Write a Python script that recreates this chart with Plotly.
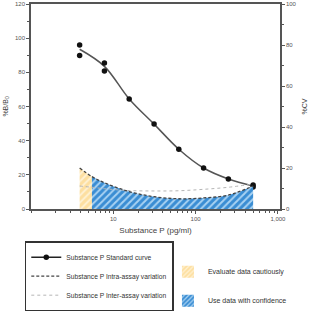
import plotly.graph_objects as go
import numpy as np

# ---- data ----
conc = [3.9, 7.8, 15.6, 31.3, 62.5, 125, 250, 500]           # pg/ml standards
curve_bb0 = [93.5, 83.5, 64.4, 49.7, 35.0, 24.0, 17.6, 13.5]  # fitted standard curve (%B/B0)
rep_conc = [3.9, 3.9, 7.8, 7.8, 15.6, 31.3, 62.5, 125, 250, 500, 500]
rep_bb0 = [96.0, 89.8, 85.5, 80.8, 64.4, 49.7, 35.0, 24.0, 17.6, 14.0, 12.9]

cv_conc = [3.9, 5.5, 7.8, 15.6, 31.3, 62.5, 125, 250, 500]
intra_cv = [20.0, 15.8, 12.8, 8.5, 6.0, 5.0, 5.4, 6.8, 11.2]
inter_cv = [11.2, 10.6, 9.9, 9.0, 8.8, 8.9, 9.6, 10.6, 12.2]

caution_end = 2      # indices 0..1 of cv_conc -> "evaluate cautiously"
confident_start = 1  # indices 1.. -> "use with confidence"

xtick_vals = [10, 100, 1000]
xtick_text = ["10", "100", "1,000"]

FONT = "Arial, Liberation Sans, sans-serif"
AX = "#555555"
TXT = "#555555"
YEL_BG, YEL_FG = "#fddfa0", "#fff1d2"
BLU_BG, BLU_FG = "#3a8dd3", "#a8d2f2"

fig = go.Figure()

# hatched areas (right axis, %CV)
fig.add_trace(go.Scatter(
    x=cv_conc[:caution_end], y=intra_cv[:caution_end], yaxis="y2",
    mode="lines", line=dict(width=0, shape="spline"), fill="tozeroy",
    fillcolor=YEL_BG,
    fillpattern=dict(shape="/", bgcolor=YEL_BG, fgcolor=YEL_FG, size=5, solidity=0.4, fillmode="replace"),
    showlegend=False, hoverinfo="skip"))
fig.add_trace(go.Scatter(
    x=cv_conc[confident_start:], y=intra_cv[confident_start:], yaxis="y2",
    mode="lines", line=dict(width=0, shape="spline"), fill="tozeroy",
    fillcolor=BLU_BG,
    fillpattern=dict(shape="/", bgcolor=BLU_BG, fgcolor=BLU_FG, size=5, solidity=0.4, fillmode="replace"),
    showlegend=False, hoverinfo="skip"))

# inter-assay (dotted grey)
fig.add_trace(go.Scatter(
    x=cv_conc, y=inter_cv, yaxis="y2", mode="lines",
    line=dict(color="#b5b5b5", width=1, dash="dot", shape="spline"),
    name="Substance P Inter-assay variation", legend="legend", legendrank=3))
# intra-assay (dashed dark)
fig.add_trace(go.Scatter(
    x=cv_conc, y=intra_cv, yaxis="y2", mode="lines",
    line=dict(color="#444444", width=1.3, dash="3px,2px", shape="spline"),
    name="Substance P Intra-assay variation", legend="legend", legendrank=2))

# standard curve
fig.add_trace(go.Scatter(
    x=conc, y=curve_bb0, mode="lines",
    line=dict(color="#555555", width=1.5, shape="spline"),
    showlegend=False, legendgroup="std"))
fig.add_trace(go.Scatter(
    x=rep_conc, y=rep_bb0, mode="markers",
    marker=dict(color="#111111", size=5.5),
    showlegend=False, legendgroup="std"))
# legend key for the standard curve
fig.add_trace(go.Scatter(
    x=[None], y=[None], mode="lines+markers",
    line=dict(color="#222222", width=1.5), marker=dict(color="#111111", size=5.5),
    name="Substance P Standard curve", legendgroup="std", legend="legend", legendrank=1))

# legend keys for the areas
fig.add_trace(go.Bar(
    x=[None], y=[None], name="Evaluate data cautiously", legend="legend2",
    legendgroup="a", marker=dict(color=YEL_BG, line=dict(width=0),
    pattern=dict(shape="/", bgcolor=YEL_BG, fgcolor=YEL_FG, size=4, solidity=0.4, fillmode="replace"))))
fig.add_trace(go.Bar(
    x=[None], y=[None], name="Use data with confidence", legend="legend2",
    legendgroup="b", marker=dict(color=BLU_BG, line=dict(width=0),
    pattern=dict(shape="/", bgcolor=BLU_BG, fgcolor=BLU_FG, size=4, solidity=0.4, fillmode="replace"))))

tickfont = dict(family=FONT, size=6, color=TXT)
fig.update_layout(
    width=312, height=312,
    margin=dict(l=31, r=32, t=4, b=103, autoexpand=False),
    paper_bgcolor="white", plot_bgcolor="white",
    font=dict(family=FONT, color=TXT),
    xaxis=dict(type="log", range=[0, np.log10(1060)],
               tickmode="array", tickvals=xtick_vals, ticktext=xtick_text,
               ticks="outside", ticklen=3, tickcolor=AX, tickwidth=1,
               minor=dict(dtick="D1", ticks="outside", ticklen=2, tickcolor=AX),
               showline=True, linecolor=AX, linewidth=1.5, mirror=True,
               showgrid=False, zeroline=False, tickfont=tickfont,
               title=dict(text="Substance P (pg/ml)", font=dict(family=FONT, size=8, color="#444"), standoff=6)),
    yaxis=dict(range=[0, 120], dtick=20, ticks="outside", ticklen=3, tickcolor=AX,
               minor=dict(dtick=10, ticks="outside", ticklen=2, tickcolor=AX),
               showline=True, linecolor=AX, linewidth=1.5, showgrid=False, zeroline=False,
               tickfont=tickfont,
               title=dict(text="%B/B<sub>0</sub>", font=dict(family=FONT, size=7, color="#444"), standoff=6)),
    yaxis2=dict(range=[0, 100], dtick=20, overlaying="y", side="right",
                ticks="outside", ticklen=3, tickcolor=AX,
                minor=dict(dtick=10, ticks="outside", ticklen=2, tickcolor=AX),
                showline=True, linecolor=AX, linewidth=1.5, showgrid=False, zeroline=False,
                tickfont=tickfont,
                title=dict(text="%CV", font=dict(family=FONT, size=7, color="#444"), standoff=6)),
    legend=dict(x=-0.025, y=-0.157, xanchor="left", yanchor="top",
                bgcolor="white", bordercolor="#333333", borderwidth=1.5,
                font=dict(family=FONT, size=6.7, color="#333"),
                traceorder="normal", itemwidth=30, tracegroupgap=0),
    legend2=dict(x=0.55, y=-0.235, xanchor="left", yanchor="top",
                 bgcolor="rgba(0,0,0,0)", borderwidth=0,
                 font=dict(family=FONT, size=7, color="#333"),
                 tracegroupgap=10),
    showlegend=True,
)

fig.write_html("out.html")
